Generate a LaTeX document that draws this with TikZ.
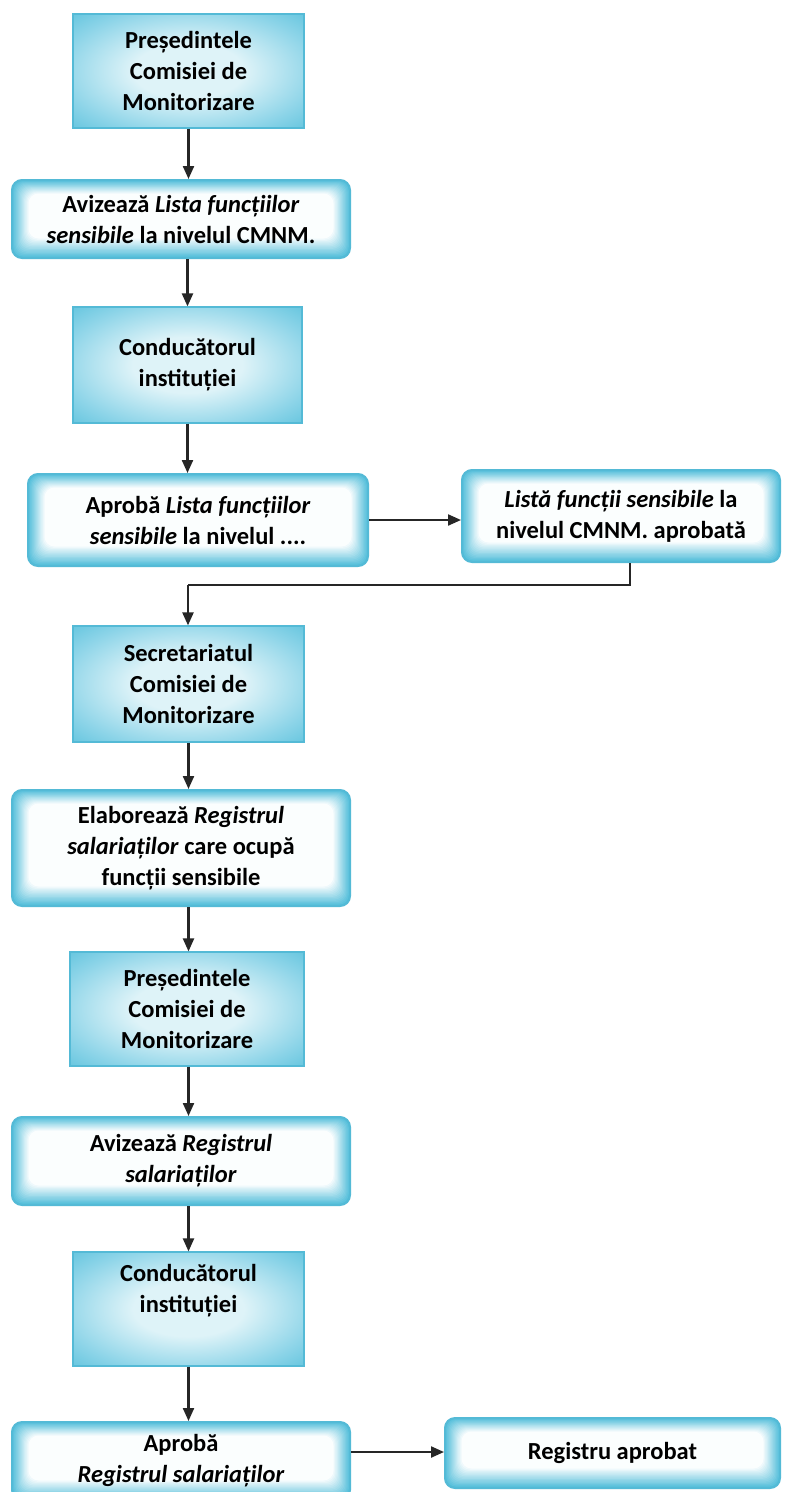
\documentclass[tikz,border=0pt]{standalone}
\usepackage{fontspec}
\setmainfont{Carlito}
\usetikzlibrary{arrows.meta}
\definecolor{cyanA}{RGB}{82,190,218}
\definecolor{cyanB}{RGB}{222,243,248}
\definecolor{cyanC}{RGB}{140,212,232}
\definecolor{cyanD}{RGB}{84,186,214}
\pgfdeclareradialshading{rectglow}{\pgfpoint{0bp}{0bp}}{color(0bp)=(cyanB); color(12bp)=(cyanB); color(28bp)=(cyanC); color(40bp)=(cyanA); color(50bp)=(cyanA)}
\tikzset{
  boxtext/.style={align=center, inner sep=0pt, text=black,
    font=\fontsize{24.5}{31}\selectfont\bfseries},
  rectbox/.style={boxtext, rectangle, draw=cyanD, line width=1.2pt,
    shading=rectglow},
  roundbox/.style={boxtext, rectangle, rounded corners=10pt, draw=cyanD, line width=2pt,
    fill=white,
    path picture={
      \foreach \i in {0,...,15}{
        \pgfmathtruncatemacro\p{100-\i*6.5}
        \fill[cyanA!\p!white, rounded corners=10pt]
          ([shift={(\i*1.1pt,-\i*0.9pt)}]path picture bounding box.north west)
          rectangle ([shift={(-\i*1.1pt,\i*1.3pt)}]path picture bounding box.south east);
      }
    }},
  conn/.style={draw=black!85, line width=2.2pt, -{Triangle[length=13pt,width=11pt]}},
  link/.style={draw=black!85, line width=2.2pt}
}
\begin{document}
\begin{tikzpicture}[x=1pt,y=-1pt]
\useasboundingbox (0,0) rectangle (790,1492);
\fill[white] (0,0) rectangle (790,1492);

\node[rectbox, minimum width=231pt, minimum height=114pt] (b1) at (188.5,71)
  {Președintele\\Comisiei de\\Monitorizare};
\node[roundbox, minimum width=338pt, minimum height=78pt] (b2) at (181,219)
  {Avizează \textit{Lista funcțiilor}\\\textit{sensibile} la nivelul CMNM.};
\node[rectbox, minimum width=229pt, minimum height=116pt] (b3) at (187.5,365)
  {Conducătorul\\instituției};
\node[roundbox, minimum width=340pt, minimum height=92pt] (b4) at (198,520)
  {Aprobă \textit{Lista funcțiilor}\\\textit{sensibile} la nivelul ....};
\node[roundbox, minimum width=318pt, minimum height=92pt] (b5) at (621,516)
  {\textit{Listă funcții sensibile} la\\nivelul CMNM. aprobată};
\node[rectbox, minimum width=231pt, minimum height=116pt] (b6) at (188.5,684)
  {Secretariatul\\Comisiei de\\Monitorizare};
\node[roundbox, minimum width=338pt, minimum height=116pt] (b7) at (181,848)
  {Elaborează \textit{Registrul}\\\textit{salariaților} care ocupă\\funcții sensibile};
\node[rectbox, minimum width=234pt, minimum height=114pt] (b8) at (187,1009)
  {Președintele\\Comisiei de\\Monitorizare};
\node[roundbox, minimum width=338pt, minimum height=88pt] (b9) at (181,1161)
  {Avizează \textit{Registrul}\\\textit{salariaților}};
\node[rectbox, minimum width=231pt, minimum height=114pt] (b10) at (188.5,1309)
  {Conducătorul\\instituției\\[10pt]};
\node[roundbox, minimum width=338pt, minimum height=78pt] (b11) at (181,1461)
  {Aprobă\\\textit{Registrul salariaților}};
\node[roundbox, minimum width=335pt, minimum height=70pt] (b12) at (612.5,1453)
  {Registru aprobat};

\draw[conn] (b1.south) -- (b1.south |- b2.north);
\draw[conn] (b3.north |- b2.south) -- (b3.north);
\draw[conn] (b3.south) -- (b3.south |- b4.north);
\draw[conn] (b4.east) -- (b4.east -| b5.west);
\coordinate (k1) at (630,585);
\coordinate (k2) at (188,585);
\draw[link] (b5.south -| k1) -- (k1) -- (k2);
\draw[conn] (k2) -- (k2 |- b6.north);
\draw[conn] (b6.south) -- (b6.south |- b7.north);
\draw[conn] (b6.south |- b7.south) -- (b6.south |- b8.north);
\draw[conn] (b8.south -| b6.south) -- (b6.south |- b9.north);
\draw[conn] (b6.south |- b9.south) -- (b10.north);
\draw[conn] (b10.south) -- (b10.south |- b11.north);
\draw[conn] ([yshift=9pt]b11.east) -- ([yshift=9pt]b11.east -| b12.west);
\end{tikzpicture}
\end{document}
